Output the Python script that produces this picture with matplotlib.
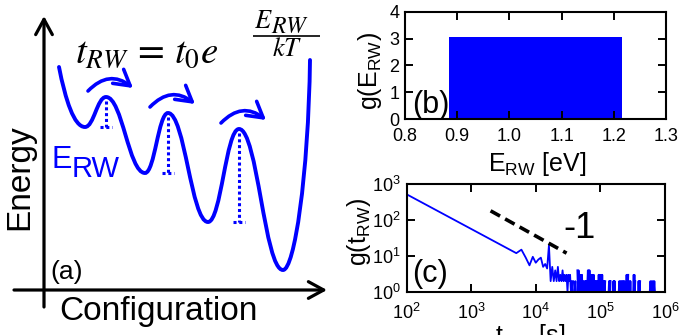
import numpy as np
import matplotlib
matplotlib.use("Agg")
import matplotlib.pyplot as plt
from matplotlib.path import Path
from matplotlib.patches import PathPatch, FancyArrowPatch
from matplotlib.ticker import (LogLocator, LogFormatterMathtext, NullLocator,
                               FormatStrFormatter)

plt.rcParams['font.family'] = ['Liberation Sans', 'DejaVu Sans']
plt.rcParams['mathtext.fontset'] = 'custom'
plt.rcParams['mathtext.rm'] = 'Liberation Sans'
plt.rcParams['mathtext.it'] = 'Liberation Sans:italic'
plt.rcParams['mathtext.bf'] = 'Liberation Sans:bold'

BLUE = '#0000ff'

# ---- (a) schematic energy landscape: successive extrema (x right, y down)
well_x = [59, 85, 106, 145, 168, 208, 239, 283, 310]
well_y = [67, 127, 97, 173, 113, 222, 129, 270, 60]
barrier_idx = [2, 4, 6]

# ---- (b) distribution of barrier energies
e_lo, e_hi = 0.885, 1.215
g_e = 3.05
e_ticks = [0.8, 0.9, 1.0, 1.1, 1.2, 1.3]
ge_ticks = [0, 1, 2, 3, 4]

# ---- (c) distribution of waiting times
t_head_s = [100]
g_head = [520]
t_bin0_s = 5000
t_bin_s = 1000
g_bins = [12, 15, 9, 5.5, 9.5, 6.5, 8, 9, 5, 6, 4.5, 20, 2, 5, 2, 4,
          2, 5, 2, 3, 2, 4, 2, 3, 2, 3, 1, 3, 2, 3, 1, 2,
          1, 2, 0, 1, 2, 1, 0, 4, 1, 4, 1, 3, 1, 3, 2, 3,
          1, 2, 0, 1, 2, 1, 2, 1, 2, 0, 2, 4, 1, 4, 1, 4,
          1, 2, 0, 1, 3, 1, 3, 1, 2, 1, 3, 1, 2, 0, 0, 1,
          2, 1, 2, 1, 0, 0, 1, 2, 1, 3, 1, 2, 1, 3, 1, 2]
tail_t_ks = [101, 103, 105, 107, 109, 111, 113, 115, 117, 119, None,
             134, 136, 138, 140, 142, 144, None,
             157, 159, 161, 163, 165, 167, 169, None,
             192, 196, 200, 204, 208, 212, 216, 220, 224, 228, 232, 236, 240, None,
             250, 254, 258, 262, 266, 270, None,
             280, 284, 288, 292, 296, None,
             322, 327, 332, 337, 342, 347, None,
             383, 389, 395, 401, 407, 413, None,
             580, 595, 610, 625, 640, 655, 670, 685, 700]
tail_g = [1, 3, 1, 3, 1, 2, 1, 2, 1, 2, None,
          1, 2, 1, 2, 1, 2, None,
          1, 2, 1, 2, 1, 2, 1, None,
          1, 2, 1, 2, 1, 2, 1, 2, 1, 2, 1, 2, 1, None,
          1, 3, 1, 3, 1, 3, None,
          1, 2, 1, 2, 1, None,
          1, 3, 1, 3, 1, 2, None,
          1, 2, 1, 2, 1, 2, None,
          1, 2, 1, 2, 1, 2, 1, 2, 1]
guide_t = [2e3, 3e4]
guide_g = [180, 12]

W, H = 679, 335
fig = plt.figure(figsize=(W / 100, H / 100), dpi=100)

# ================= panel (a) =================
ax_a = fig.add_axes([0, 0, 340 / W, 1])
ax_a.set_xlim(0, 340)
ax_a.set_ylim(H, 0)
ax_a.axis('off')

# coordinate arrows
ax_a.annotate('', xy=(44, 16), xytext=(44, 307),
              arrowprops=dict(arrowstyle='->,head_length=0.55,head_width=0.3',
                              lw=2.3, color='black', shrinkA=0, shrinkB=0,
                              mutation_scale=20))
ax_a.annotate('', xy=(327, 290), xytext=(14, 290),
              arrowprops=dict(arrowstyle='->,head_length=0.55,head_width=0.3',
                              lw=2.3, color='black', shrinkA=0, shrinkB=0,
                              mutation_scale=20))

# smooth landscape through the extrema
verts = [(well_x[0], well_y[0])]
codes = [Path.MOVETO]
n = len(well_x)
for i in range(n - 1):
    x0, y0, x1, y1 = well_x[i], well_y[i], well_x[i + 1], well_y[i + 1]
    dx, dy = x1 - x0, y1 - y0
    c1 = (x0 + 0.25 * dx, y0 + 0.55 * dy) if i == 0 else (x0 + 0.42 * dx, y0)
    c2 = (x1 - 0.06 * dx, y1 - 0.55 * dy) if i == n - 2 else (x1 - 0.42 * dx, y1)
    verts += [c1, c2, (x1, y1)]
    codes += [Path.CURVE4] * 3
ax_a.add_patch(PathPatch(Path(verts, codes), facecolor='none',
                         edgecolor=BLUE, lw=2.8, capstyle='round'))

# barrier heights and hopping arrows
for k in barrier_idx:
    xp, yp = well_x[k], well_y[k]
    ylow = well_y[k - 1]
    ax_a.plot([xp, xp], [yp + 4, ylow], color=BLUE, lw=2.2,
              linestyle=(0, (1.0, 0.9)), solid_capstyle='butt')
    ax_a.plot([xp - 6, xp + 6], [ylow, ylow], color=BLUE, lw=2.2,
              linestyle=(0, (1.0, 0.9)))
    arr = FancyArrowPatch((xp - 18, yp - 6), (xp + 27, yp - 9),
                          connectionstyle='arc3,rad=-0.45',
                          arrowstyle='->,head_length=0.55,head_width=0.32',
                          mutation_scale=20, lw=2.6, color=BLUE,
                          shrinkA=0, shrinkB=0)
    ax_a.add_patch(arr)

# Arrhenius relation, with the exponent set as a stacked fraction
ax_a.text(75, 63, r'$t_{RW}\,=\,t_0 e$', fontsize=28,
          math_fontfamily='stix', va='baseline', ha='left')
ax_a.text(254, 28.5, r'$E$', fontsize=19, math_fontfamily='stix',
          va='baseline', ha='left')
ax_a.text(271, 33, r'$RW$', fontsize=17, math_fontfamily='stix',
          va='baseline', ha='left')
ax_a.plot([253, 320], [35.5, 35.5], color='black', lw=1.2,
          solid_capstyle='butt')
ax_a.text(287, 56.5, r'$kT$', fontsize=19, math_fontfamily='stix',
          va='baseline', ha='center')

ax_a.text(52, 168, 'E', fontsize=22, color=BLUE, va='baseline')
ax_a.text(72, 177, 'RW', fontsize=21, color=BLUE, va='baseline')
ax_a.text(20, 177, 'Energy', fontsize=24, rotation=90, ha='center', va='center')
ax_a.text(158, 320, 'Configuration', fontsize=24, ha='center', va='baseline')
ax_a.text(50, 279, '(a)', fontsize=19, va='baseline')


def style_box(ax, xpad):
    for s in ax.spines.values():
        s.set_linewidth(1.5)
    ax.tick_params(which='both', direction='in', top=True, right=True,
                   length=6, width=1.4, labelsize=13)
    ax.tick_params(axis='x', pad=xpad)
    ax.tick_params(axis='y', pad=4)


def side_label(ax, x, y, s):
    ax.text(x, y, s, transform=ax.transAxes, fontsize=18, rotation=90,
            rotation_mode='anchor', ha='center', va='center')


# ================= panel (b) =================
ax_b = fig.add_axes([405 / W, 1 - 119 / H, 261 / W, 107.3 / H])
ax_b.bar((e_lo + e_hi) / 2, g_e, width=e_hi - e_lo, color=BLUE,
         edgecolor='none')
ax_b.set_xlim(0.8, 1.3)
ax_b.set_ylim(0, 4)
ax_b.set_xticks(e_ticks)
ax_b.set_yticks(ge_ticks)
ax_b.xaxis.set_major_formatter(FormatStrFormatter('%.1f'))
style_box(ax_b, 6.5)
ax_b.set_xlabel(r'E$_{\rm RW}$ [eV]', fontsize=18)
ax_b.xaxis.set_label_coords(0.506, -0.29)
side_label(ax_b, -0.134, 0.447, r'g(E$_{\rm RW}$)')
ax_b.text(0.027, 0.056, '(b)', transform=ax_b.transAxes, fontsize=22,
          va='baseline')

# ================= panel (c) =================
ax_c = fig.add_axes([406.5 / W, 1 - 292 / H, 258.5 / W, 108 / H])
t_bins = t_bin0_s + t_bin_s * np.arange(len(g_bins))
g_bins_arr = np.array(g_bins, dtype=float)
tail_t = np.array([np.nan if v is None else v * 1e3 for v in tail_t_ks])
tail_v = np.array([np.nan if v is None else v for v in tail_g], dtype=float)
t_all = np.concatenate([t_head_s, t_bins, tail_t])
g_all = np.concatenate([g_head, g_bins_arr, tail_v])
g_all = np.where(g_all > 0, g_all, np.nan)
ax_c.plot(t_all, g_all, color=BLUE, lw=1.3)
ax_c.plot(guide_t, guide_g, color='black', lw=2.6, dashes=(3, 1.6))
ax_c.set_xscale('log')
ax_c.set_yscale('log', nonpositive='mask')
ax_c.set_xlim(1e2, 1e6)
ax_c.set_ylim(1, 1e3)
for axis in (ax_c.xaxis, ax_c.yaxis):
    axis.set_major_locator(LogLocator(base=10, numticks=10))
    axis.set_minor_locator(NullLocator())
    axis.set_major_formatter(LogFormatterMathtext())
style_box(ax_c, 7.5)
ax_c.set_xlabel(r't$_{\rm RW}$ [s]', fontsize=18)
ax_c.xaxis.set_label_coords(0.478, -0.278)
side_label(ax_c, -0.184, 0.56, r'g(t$_{\rm RW}$)')
ax_c.text(0.021, 0.095, '(c)', transform=ax_c.transAxes, fontsize=22,
          va='baseline')
ax_c.text(0.605, 0.5, '-1', transform=ax_c.transAxes, fontsize=26,
          va='baseline')

fig.savefig('out.png', dpi=100)
